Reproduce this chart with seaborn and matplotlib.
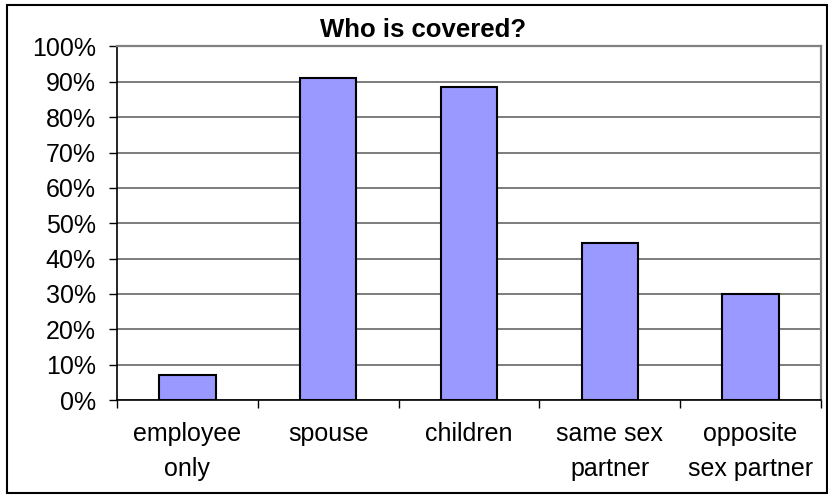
import matplotlib
matplotlib.use("Agg")
import matplotlib.pyplot as plt
import seaborn as sns
import pandas as pd
from matplotlib.patches import Rectangle
from matplotlib.ticker import MultipleLocator, FuncFormatter

categories = ["employee\nonly", "spouse", "children", "same sex\npartner", "opposite\nsex partner"]
values = [7, 91, 88.5, 44.5, 30]
title = "Who is covered?"

sns.set_style("white")
plt.rcParams['font.family'] = ['Liberation Sans', 'DejaVu Sans']
plt.rcParams['text.color'] = 'black'
plt.rcParams['xtick.color'] = 'black'
plt.rcParams['ytick.color'] = 'black'

df = pd.DataFrame({"cat": categories, "val": values})

fig = plt.figure(figsize=(8.29, 4.95), dpi=100)
ax = fig.add_axes([117/829, 1-400/495, (821-117)/829, (400-46.5)/495])

sns.barplot(data=df, x="cat", y="val", ax=ax, color="#9999FF", saturation=1,
            width=0.4, edgecolor="black", linewidth=1.5, zorder=3)

ax.set_xlim(-0.5, len(categories)-0.5)
ax.set_ylim(0, 100)
ax.yaxis.set_major_locator(MultipleLocator(10))
ax.yaxis.set_major_formatter(FuncFormatter(lambda v, p: f"{int(round(v))}%"))
ax.grid(axis="y", color="#666666", linewidth=1.2, zorder=0)
ax.set_axisbelow(True)
ax.set_xlabel("")
ax.set_ylabel("")

for s in ["top", "right"]:
    ax.spines[s].set_color("#808080")
    ax.spines[s].set_linewidth(1.6)
for s in ["left", "bottom"]:
    ax.spines[s].set_color("black")
    ax.spines[s].set_linewidth(1.2)

ax.tick_params(axis="y", direction="out", length=5.8, width=1, color="black",
               labelsize=18, pad=9.5, left=True, labelcolor="black")
ax.set_xticks([i for i in range(len(categories))])
ax.set_xticklabels(categories, fontsize=18, linespacing=1.55, color="black")
ax.tick_params(axis="x", length=0, pad=16)
ax.set_xticks([i - 0.5 for i in range(len(categories)+1)], minor=True)
ax.tick_params(axis="x", which="minor", direction="out", length=5.8, width=1, color="black", bottom=True)

fig.text(423/829, 1-30/495, title, ha="center", va="center", fontsize=18.5,
         fontweight="bold", color="black")

fig.patches.append(Rectangle((7/829, 1-493/495), 820/829, 488/495, transform=fig.transFigure,
                             fill=False, edgecolor="black", linewidth=1.5))

fig.savefig("out.png", dpi=100)
